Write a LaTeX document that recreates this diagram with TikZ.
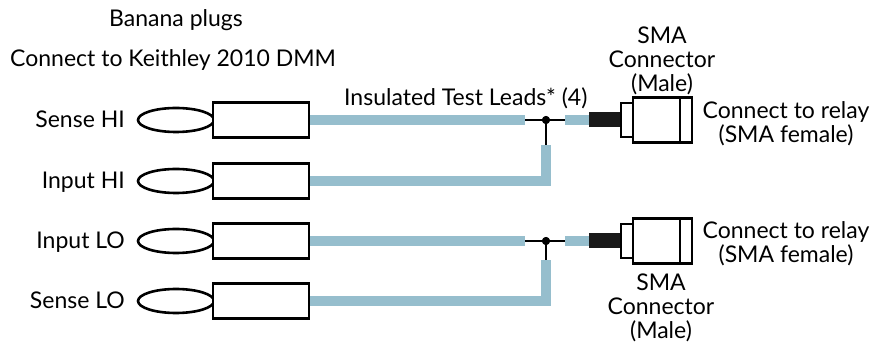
\documentclass[tikz,border=0pt]{standalone}
\usepackage{fontspec}
\setmainfont{Lato}
\usetikzlibrary{positioning,shapes.geometric}
\definecolor{leadblue}{RGB}{150,190,205}
\tikzset{
  plug/.style={draw,ellipse,line width=2.6pt,minimum width=76pt,minimum height=24pt,inner sep=0pt},
  sleeve/.style={draw,fill=white,line width=2.8pt,minimum width=96pt,minimum height=35pt,inner sep=0pt},
  body/.style={fill=black!90,minimum width=32pt,minimum height=15pt,inner sep=0pt,outer sep=0pt},
  nut/.style={draw,fill=white,line width=2.4pt,minimum width=12pt,minimum height=34pt,inner sep=0pt,outer sep=0pt},
  smabox/.style={draw,fill=white,line width=2.6pt,minimum width=59pt,minimum height=45pt,inner sep=0pt,outer sep=0pt},
  dot/.style={circle,fill=black,inner sep=0pt,minimum size=8pt},
  lead/.style={leadblue,line width=10pt},
  wire/.style={line width=2.2pt},
  lbl/.style={font=\fontsize{23}{24}\selectfont,inner sep=0pt},
}
\begin{document}
\begin{tikzpicture}[x=1pt,y=-1pt]
  \useasboundingbox (0,0) rectangle (875,344);
  % banana plugs and sleeves
  \foreach \name/\txt/\y in {shi/Sense HI/120,ihi/Input HI/181,ilo/Input LO/241,slo/Sense LO/301} {
    \node[plug] (\name-p) at (176,\y) {};
    \node[sleeve] (\name) at (261,\y) {};
    \node[lbl,anchor=base east] (\name-t) at (125,\y+8) {\txt};
  }
  \node[lbl,anchor=base] (banana) at (176,27) {Banana plugs};
  \node[lbl,anchor=base west] (dmm) at (10,67) {Connect to Keithley 2010 DMM};
  \node[lbl,anchor=base west] (leads) at (344,106) {Insulated Test Leads* (4)};
  % SMA connectors
  \node[dot] (d1) at (546,120) {};
  \node[dot] (d2) at (546,241) {};
  \node[body] (b1) at (605,120) {};
  \node[nut,right=0pt of b1] (n1) {};
  \node[smabox,right=0pt of n1] (s1) {};
  \node[body] (b2) at (605,241) {};
  \node[nut,right=0pt of b2] (n2) {};
  \node[smabox,right=0pt of n2] (s2) {};
  \draw[line width=2.4pt] ([xshift=-12pt]s1.north east) -- ([xshift=-12pt]s1.south east);
  \draw[line width=2.4pt] ([xshift=-12pt]s2.north east) -- ([xshift=-12pt]s2.south east);
  \node[lbl,align=center,anchor=north] (sma1) at (662,26.5) {SMA\\Connector\\(Male)};
  \node[lbl,align=center,anchor=north] (sma2) at (661,273.5) {SMA\\Connector\\(Male)};
  \node[lbl,align=center,anchor=north] (relay1) at (786,101) {Connect to relay\\(SMA female)};
  \node[lbl,align=center,anchor=north] (relay2) at (786,221) {Connect to relay\\(SMA female)};
  % leads
  \draw[wire] ([xshift=-21pt]d1.center) -- (b1.west);
  \draw[wire] (d1.center) -- (d1 |- ihi);
  \draw[lead,shorten >=21pt] (shi.east) -- (d1.center);
  \draw[lead,shorten <=19pt] (d1.center) -- (b1.west);
  \draw[lead] (ihi.east) -| ([yshift=-25pt]d1.center);
  \draw[wire] ([xshift=-21pt]d2.center) -- (b2.west);
  \draw[wire] (d2.center) -- (d2 |- slo);
  \draw[lead,shorten >=21pt] (ilo.east) -- (d2.center);
  \draw[lead,shorten <=19pt] (d2.center) -- (b2.west);
  \draw[lead] (slo.east) -| ([yshift=-19pt]d2.center);
  \node[dot] at (d1) {};
  \node[dot] at (d2) {};
\end{tikzpicture}
\end{document}
